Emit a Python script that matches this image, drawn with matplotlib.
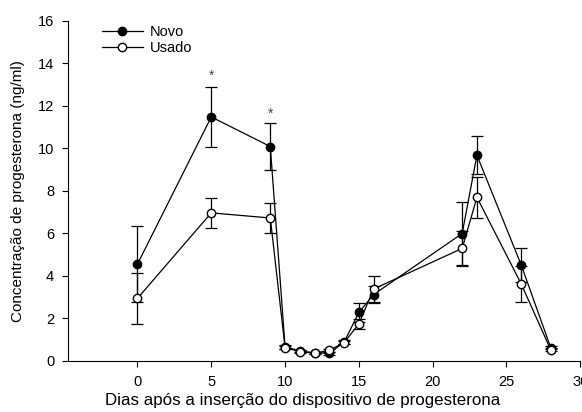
import matplotlib.pyplot as plt
from matplotlib.lines import Line2D

plt.rcParams['font.family'] = ['Liberation Sans', 'DejaVu Sans']

# dias e concentracoes (ng/ml)
dias = [0, 5, 9, 10, 11, 12, 13, 14, 15, 16, 22, 23, 26, 28]
novo = [4.55, 11.47, 10.08, 0.67, 0.47, 0.38, 0.36, 0.88, 2.28, 3.12, 5.99, 9.67, 4.51, 0.62]
novo_err = [1.8, 1.42, 1.1, 0.1, 0.06, 0.05, 0.06, 0.1, 0.43, 0.4, 1.5, 0.9, 0.78, 0.08]
usado = [2.94, 6.96, 6.72, 0.62, 0.44, 0.36, 0.5, 0.86, 1.74, 3.38, 5.29, 7.69, 3.62, 0.52]
usado_err = [1.2, 0.7, 0.72, 0.08, 0.05, 0.05, 0.06, 0.08, 0.25, 0.6, 0.83, 0.97, 0.84, 0.07]

asterisco_x = [5, 9]
asterisco_y = [13.4, 11.6]

fig = plt.figure(figsize=(5.82, 4.12), dpi=100)
ax = fig.add_axes([0.117, 0.124, 0.88, 0.826])

ax.errorbar(dias, novo, yerr=novo_err, color='black', marker='o', markersize=6,
            markerfacecolor='black', markeredgecolor='black', linewidth=0.9,
            elinewidth=0.9, capsize=4, capthick=0.9)
ax.errorbar(dias, usado, yerr=usado_err, color='black', marker='o', markersize=6,
            markerfacecolor='white', markeredgecolor='black', linewidth=0.9,
            elinewidth=0.9, capsize=4, capthick=0.9)

for x, y in zip(asterisco_x, asterisco_y):
    ax.text(x, y, '*', ha='center', va='center', fontsize=10, color='#444444')

ax.set_xlim(-4.7, 30)
ax.set_ylim(0, 16)
ax.set_xticks([0, 5, 10, 15, 20, 25, 30])
ax.set_yticks(range(0, 17, 2))
ax.spines['top'].set_visible(False)
ax.spines['right'].set_visible(False)
ax.tick_params(direction='out', length=4, labelsize=10.5, pad=6)

ax.set_xlabel('Dias após a inserção do dispositivo de progesterona', fontsize=12.2, labelpad=4)
ax.xaxis.set_label_coords(0.457, -0.095)
ax.set_ylabel('Concentração de progesterona (ng/ml)', fontsize=11, labelpad=9)

handles = [
    Line2D([], [], color='black', marker='o', markersize=6, markerfacecolor='black', linewidth=0.9),
    Line2D([], [], color='black', marker='o', markersize=6, markerfacecolor='white', linewidth=0.9),
]
ax.legend(handles, ['Novo', 'Usado'], loc='upper left', bbox_to_anchor=(0.04, 1.025),
          frameon=False, fontsize=10.5, handlelength=2.8, handletextpad=0.5, labelspacing=0.15)

fig.savefig('out.png', dpi=100)
